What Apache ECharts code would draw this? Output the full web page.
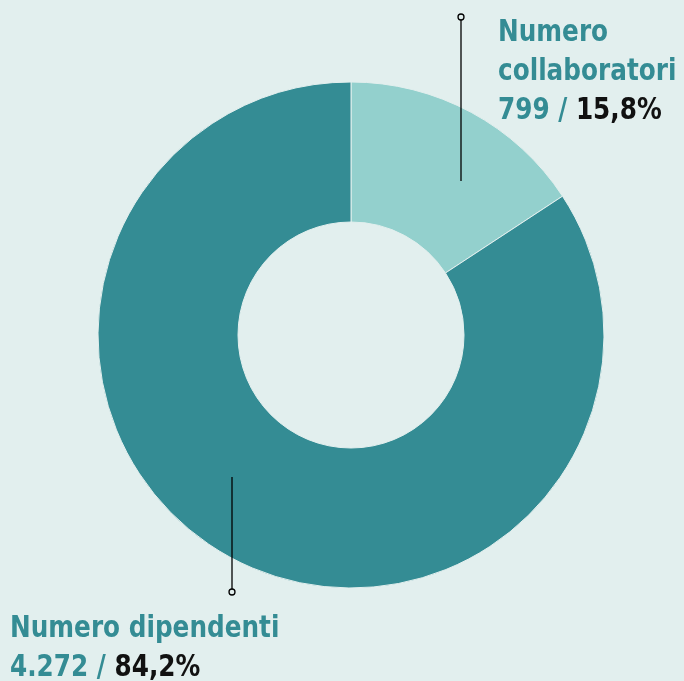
<!DOCTYPE html>
<html><head><meta charset="utf-8">
<script src="https://cdn.jsdelivr.net/npm/echarts@6/dist/echarts.min.js"></script>
<style>html,body{margin:0;padding:0;background:#e2efee}#c{width:684px;height:681px}</style>
</head><body><div id="c"></div>
<script>
const categories = ['Numero collaboratori', 'Numero dipendenti'];
const values = [799, 4272];
const valueLabels = ['799', '4.272'];
const percentLabels = ['15,8%', '84,2%'];
const colors = ['#93d0cd', '#348c94'];

const FONT = '"DejaVu Sans Condensed", "DejaVu Sans", sans-serif';
const teal = '#348c94';
const FS = 'bold 27.5px ' + FONT;
const chart = echarts.init(document.getElementById('c'), null, {renderer: 'canvas'});

function block(x, yTop, lines, value, pct) {
  const children = [];
  lines.forEach((t, i) => {
    children.push({type: 'text', x: x, y: yTop + i * 39.2, scaleY: 1.12, z: 100,
      style: {text: t, fill: teal, font: FS, verticalAlign: 'top'}});
  });
  children.push({type: 'text', x: x, y: yTop + lines.length * 39.2, scaleY: 1.12, z: 100, style: {
    text: '{a|' + value + ' / }{b|' + pct + '}',
    verticalAlign: 'top',
    rich: {a: {fill: teal, font: FS}, b: {fill: '#111', font: FS}}
  }});
  return children;
}

const option = {
  backgroundColor: '#e2efee',
  animation: false,
  series: [{
    type: 'pie',
    center: [351, 335],
    radius: [113, 253],
    startAngle: 90,
    clockwise: true,
    label: {show: false},
    labelLine: {show: false},
    itemStyle: {borderColor: '#e2efee', borderWidth: 1},
    data: categories.map((c, i) => ({name: c, value: values[i], itemStyle: {color: colors[i]}}))
  }],
  graphic: [
    {type: 'line', z: 100, shape: {x1: 461, y1: 20, x2: 461, y2: 181}, style: {stroke: '#000', lineWidth: 1.3}},
    {type: 'circle', z: 100, shape: {cx: 461, cy: 17, r: 3}, style: {fill: '#e2efee', stroke: '#000', lineWidth: 1.3}},
    {type: 'line', z: 100, shape: {x1: 232, y1: 477, x2: 232, y2: 589}, style: {stroke: '#000', lineWidth: 1.3}},
    {type: 'circle', z: 100, shape: {cx: 232, cy: 592, r: 3}, style: {fill: '#e2efee', stroke: '#000', lineWidth: 1.3}},
    {type: 'group', z: 100, children: block(498, 17, ['Numero', 'collaboratori'], valueLabels[0], percentLabels[0])},
    {type: 'group', z: 100, children: block(10, 613, ['Numero dipendenti'], valueLabels[1], percentLabels[1])}
  ]
};
chart.setOption(option);
</script></body></html>
